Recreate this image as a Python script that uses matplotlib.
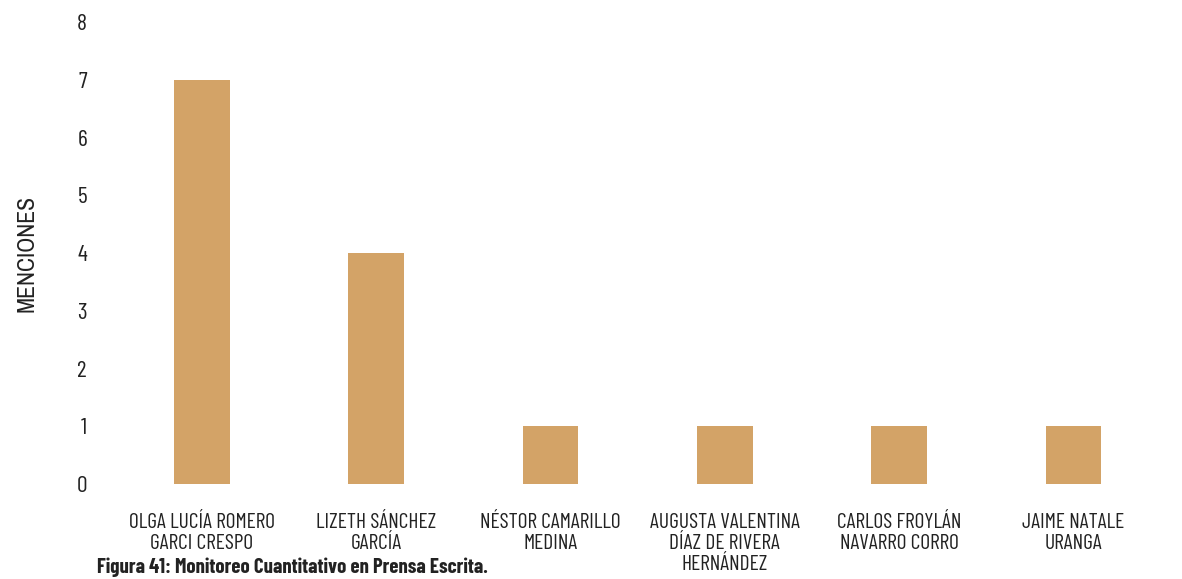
import matplotlib
matplotlib.use("Agg")
import matplotlib.pyplot as plt

names = ["OLGA LUCÍA ROMERO\nGARCI CRESPO", "LIZETH SÁNCHEZ\nGARCÍA",
         "NÉSTOR CAMARILLO\nMEDINA", "AUGUSTA VALENTINA\nDÍAZ DE RIVERA\nHERNÁNDEZ",
         "CARLOS FROYLÁN\nNAVARRO CORRO", "JAIME NATALE\nURANGA"]
menciones = [7, 4, 1, 1, 1, 1]
yticks = [0, 1, 2, 3, 4, 5, 6, 7, 8]

plt.rcParams["font.family"] = ["Barlow Condensed", "DejaVu Sans"]

fig = plt.figure(figsize=(11.82, 5.79), dpi=100)
ax = fig.add_axes([0.097, 0.164, 0.885, 0.798])
ax.bar(range(len(names)), menciones, width=0.32, color="#d3a367")
ax.set_xlim(-0.5, len(names) - 0.5)
ax.set_ylim(0, 8)
ax.set_yticks(yticks)
ax.set_xticks(range(len(names)))
ax.set_xticklabels(names, fontsize=15.5, color="#222222", linespacing=1.13)
ax.tick_params(axis="y", labelsize=17, length=0, pad=20, labelcolor="#222222")
ax.tick_params(axis="x", length=0, pad=21)
for s in ax.spines.values():
    s.set_visible(False)
ax.set_ylabel("MENCIONES", fontsize=17, color="#222222", labelpad=28,
              family=["Archivo Narrow", "DejaVu Sans"])
fig.text(0.082, 0.01, "Figura 41: Monitoreo Cuantitativo en Prensa Escrita.",
         fontsize=15, fontweight="bold", color="#222222")
fig.savefig("out.png", dpi=100)
